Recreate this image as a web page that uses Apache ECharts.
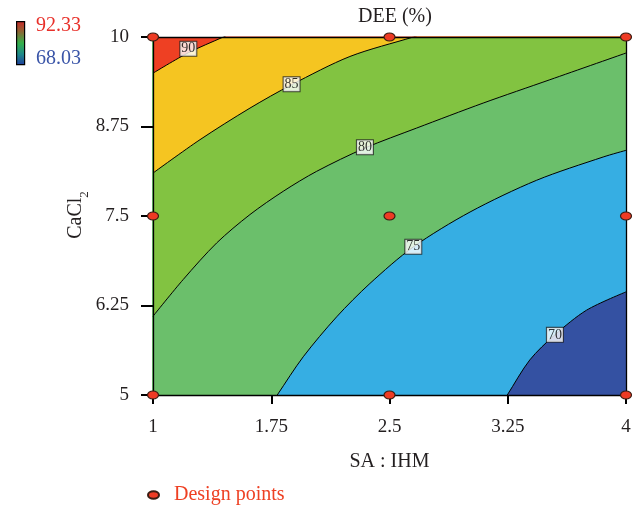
<!DOCTYPE html>
<html>
<head>
<meta charset="utf-8">
<script src="https://cdn.jsdelivr.net/npm/echarts@6/dist/echarts.min.js"></script>
<style>html,body{margin:0;padding:0;background:#fff}#c{width:637px;height:507px}</style>
</head>
<body>
<div id="c"></div>
<script>
// ---- data ----
const xTicks = [1, 1.75, 2.5, 3.25, 4];
const yTicks = [5, 6.25, 7.5, 8.75, 10];
const contourLevels = ['70', '75', '80', '85', '90'];
const contour70 = [[3.247, 5], [3.39, 5.49], [3.549, 5.84], [3.75, 6.185], [4, 6.44]];
const contour75 = [[1.788, 5], [1.953, 5.534], [2.165, 6.092], [2.376, 6.558], [2.651, 7.068], [3.011, 7.556], [3.433, 7.999], [3.855, 8.324], [4, 8.417]];
const contour80 = [[1, 6.10], [1.192, 6.614], [1.404, 7.124], [1.615, 7.52], [1.826, 7.845], [2.038, 8.124], [2.344, 8.449], [2.672, 8.728], [3.094, 9.077], [3.517, 9.403], [4, 9.776]];
const contour85 = [[1, 8.10], [1.298, 8.566], [1.615, 9.007], [1.879, 9.333], [2.249, 9.728], [2.651, 10]];
const contour90 = [[1, 9.495], [1.224, 9.78], [1.446, 10]];
// label anchor for each level, same order as contourLevels
const labelPoints = [[3.549, 5.84], [2.651, 7.07], [2.344, 8.46], [1.879, 9.34], [1.224, 9.835]];
const designPoints = [[1, 5], [2.5, 5], [4, 5], [1, 7.5], [2.5, 7.5], [4, 7.5], [1, 10], [2.5, 10], [4, 10]];
const rangeHigh = '92.33';
const rangeLow = '68.03';

// ---- styling ----
const xMin = 1, xMax = 4, yMin = 5, yMax = 10;
const bandBase = '#3451A2';
const bandColors = ['#36AEE3', '#6BBF6B', '#82C341', '#F5C521', '#EE4023'];
const FONT = 'Liberation Serif';
const contours = [contour70, contour75, contour80, contour85, contour90];

// Close a contour into the region above it; edge runs are routed just
// outside the plot (clipped) so smoothing keeps sharp corners at the frame.
function closeToTop(pts) {
  const out = pts.slice();
  const ext = 0.15;
  const p0 = out[0], p1 = out[1];
  if (p0[0] > xMin && p0[1] <= yMin) {
    const t = ext / (p1[1] - p0[1]);
    const e = [p0[0] - (p1[0] - p0[0]) * t, yMin - ext];
    out.unshift(e);
    out.unshift([xMin - 1, yMin - ext]);
  }
  const n = out.length;
  const pn = out[n - 1], pm = out[n - 2];
  if (pn[0] < xMax && pn[1] >= yMax) {
    const t = ext / (pn[1] - pm[1]);
    const e = [pn[0] + (pn[0] - pm[0]) * t, yMax + ext];
    out.push(e);
    out.push([xMax + 1, yMax + ext]);
  }
  return out;
}

const fillSeries = contours.map((c, i) => ({
  type: 'line',
  name: 'c' + contourLevels[i],
  data: closeToTop(c),
  showSymbol: false,
  symbol: 'none',
  smooth: 0.3,
  clip: true,
  silent: true,
  z: 2 + i * 0.01,
  lineStyle: { color: '#000', width: 1 },
  areaStyle: { color: bandColors[i], opacity: 1, origin: 'end' }
}));

const ellipse = 'path://M0,4A6,4,0,1,0,12,4A6,4,0,1,0,0,4Z';

const option = {
  animation: false,
  title: {
    text: 'DEE (%)',
    left: 390, top: 2, textAlign: 'center',
    textStyle: { fontFamily: FONT, fontSize: 20, fontWeight: 'normal', color: '#231f20' }
  },
  legend: {
    data: ['Design points'],
    left: 142, top: 480,
    itemWidth: 11, itemHeight: 8,
    icon: ellipse,
    textStyle: { fontFamily: FONT, fontSize: 20, color: '#EE4023', padding: [0, 0, 0, 10] }
  },
  grid: {
    left: 153, right: 11, top: 37, bottom: 112,
    show: true, backgroundColor: bandBase, borderWidth: 0
  },
  xAxis: [{
    type: 'value', min: xMin, max: xMax, position: 'bottom', z: 10,
    name: 'SA : IHM', nameLocation: 'middle', nameGap: 57,
    nameTextStyle: { fontFamily: FONT, fontSize: 20, color: '#231f20' },
    axisLine: { show: true, lineStyle: { color: '#000', width: 1.3 } },
    axisTick: { show: true, customValues: xTicks, length: 9, lineStyle: { color: '#000', width: 2 } },
    axisLabel: { customValues: xTicks, margin: 23, fontFamily: FONT, fontSize: 19, color: '#231f20' },
    splitLine: { show: false }
  }, {
    type: 'value', min: xMin, max: xMax, position: 'top', z: 10,
    axisLine: { show: true, onZero: false, lineStyle: { color: '#000', width: 1.3 } },
    axisTick: { show: false }, axisLabel: { show: false }, splitLine: { show: false }
  }],
  yAxis: [{
    type: 'value', min: yMin, max: yMax, interval: 1.25, position: 'left', z: 10,
    axisLine: { show: true, onZero: false, lineStyle: { color: '#000', width: 1.3 } },
    axisTick: { show: true, length: 12, lineStyle: { color: '#000', width: 2 } },
    axisLabel: { margin: 24, fontFamily: FONT, fontSize: 19, color: '#231f20' },
    splitLine: { show: false }
  }, {
    type: 'value', min: yMin, max: yMax, position: 'right', z: 10,
    axisLine: { show: true, onZero: false, lineStyle: { color: '#000', width: 1.3 } },
    axisTick: { show: false }, axisLabel: { show: false }, splitLine: { show: false }
  }],
  graphic: [
    {
      type: 'text', x: 76, y: 215, rotation: Math.PI / 2, z: 100,
      style: {
        text: '{a|CaCl}{s|2}',
        align: 'center', verticalAlign: 'middle',
        fontFamily: FONT, fill: '#231f20',
        rich: {
          a: { fontFamily: FONT, fontSize: 20, lineHeight: 30, verticalAlign: 'middle', fill: '#231f20' },
          s: { fontFamily: FONT, fontSize: 13, lineHeight: 13, verticalAlign: 'bottom', fill: '#231f20' }
        }
      }
    },
    {
      type: 'rect', left: 16, top: 21, z: 100,
      shape: { width: 8, height: 43 },
      style: {
        fill: new echarts.graphic.LinearGradient(0, 0, 0, 1, [
          { offset: 0, color: '#C8282A' },
          { offset: 0.2, color: '#9a5a30' },
          { offset: 0.5, color: '#34B04A' },
          { offset: 0.75, color: '#1f8a8a' },
          { offset: 1, color: '#1F3C9E' }
        ]),
        stroke: '#000', lineWidth: 1.2
      }
    },
    {
      type: 'text', left: 36, top: 16, z: 100,
      style: { text: rangeHigh, fontFamily: FONT, fontSize: 20, fill: '#E8302A' }
    },
    {
      type: 'text', left: 36, top: 49, z: 100,
      style: { text: rangeLow, fontFamily: FONT, fontSize: 20, fill: '#3A55A8' }
    }
  ],
  series: fillSeries.concat([
    {
      type: 'scatter',
      name: 'contourLabels',
      data: labelPoints.map((p, i) => [p[0], p[1], contourLevels[i]]),
      symbolSize: 0,
      silent: true,
      z: 20,
      label: {
        show: true, position: 'inside',
        formatter: (p) => p.value[2],
        fontFamily: FONT, fontSize: 14, color: '#000',
        backgroundColor: '#fff', borderColor: '#222', borderWidth: 1,
        padding: [0, 1, 0, 1]
      }
    },
    {
      type: 'scatter',
      name: 'Design points',
      data: designPoints,
      symbol: ellipse,
      symbolSize: [11, 8],
      clip: false,
      z: 30,
      itemStyle: { color: '#EE3B24', borderColor: '#3b1c12', borderWidth: 1, opacity: 1 }
    }
  ])
};

const chart = echarts.init(document.getElementById('c'), null, { renderer: 'canvas' });
chart.setOption(option);
</script>
</body>
</html>
